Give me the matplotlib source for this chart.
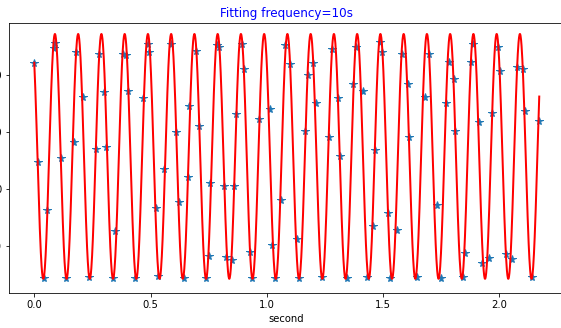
import numpy as np
import matplotlib
matplotlib.use("Agg")
import matplotlib.pyplot as plt

t_samples = [
    0.000, 0.015, 0.042, 0.055, 0.085, 0.089, 0.116, 0.135, 0.170, 0.179,
    0.208, 0.235, 0.264, 0.280, 0.301, 0.310, 0.340, 0.349, 0.383, 0.394,
    0.403, 0.434, 0.469, 0.488, 0.495, 0.523, 0.533, 0.559, 0.587, 0.611,
    0.621, 0.646, 0.661, 0.667, 0.697, 0.709, 0.738, 0.753, 0.757, 0.786,
    0.793, 0.817, 0.825, 0.850, 0.858, 0.866, 0.892, 0.901, 0.928, 0.935,
    0.967, 1.014, 1.024, 1.035, 1.060, 1.080, 1.100, 1.129, 1.140, 1.163,
    1.176, 1.200, 1.210, 1.237, 1.269, 1.280, 1.308, 1.316, 1.344, 1.372,
    1.384, 1.416, 1.431, 1.456, 1.465, 1.488, 1.496, 1.520, 1.529, 1.559,
    1.582, 1.606, 1.610, 1.645, 1.680, 1.698, 1.731, 1.748, 1.771, 1.784,
    1.804, 1.808, 1.843, 1.854, 1.877, 1.888, 1.914, 1.927, 1.957, 1.969,
    1.993, 2.003, 2.029, 2.056, 2.075, 2.101, 2.112, 2.139, 2.172,
]
y_samples = [
    22.0, 4.8, -15.5, -3.7, 24.7, 25.6, 5.5, -15.5, 8.2, 24.0,
    16.2, -15.3, 7.0, 23.7, 17.0, 7.3, -15.5, -7.3, 23.6, 23.4,
    17.2, -15.5, 16.0, 25.4, 23.9, -3.3, -15.2, 3.6, 25.4, 10.0,
    -2.3, -15.5, 2.2, 14.6, 24.2, 11.0, -15.5, -11.6, 1.1, 25.2,
    24.8, 0.6, -11.9, -12.3, 0.6, 13.2, 25.4, 21.0, -10.9, -15.6,
    12.2, 14.0, -9.8, -15.5, -1.9, 25.2, 21.9, -8.7, -15.5, 10.1,
    19.9, 22.0, 15.0, -15.3, 9.1, 24.5, 16.0, 5.8, -15.5, 18.4,
    24.8, 17.1, -15.3, -6.5, 6.9, 25.8, 24.0, -4.2, -15.5, -7.2,
    23.7, 18.4, 9.1, -15.3, 16.2, 23.7, -2.8, -15.5, 15.0, 22.2,
    19.2, 10.2, -15.3, -11.1, 22.2, 25.4, 11.8, -12.9, -12.0, 13.3,
    24.8, 20.6, -11.3, -12.2, 21.4, 21.0, 13.7, -15.3, 11.9,
]

# fitted sine parameters
fit_freq = 10.0
fit_amp = 21.4
fit_phase = 2.27
fit_offset = 5.73

t_fit = np.linspace(t_samples[0], t_samples[-1], 2000)
y_fit = fit_amp * np.sin(2 * np.pi * fit_freq * t_fit + fit_phase) + fit_offset

fig = plt.figure(figsize=(561 / 72, 328 / 72), dpi=72)
ax = fig.add_axes([9 / 561, 34.7 / 328, 555.4 / 561, 270.6 / 328])
ax.plot(t_samples, y_samples, "*", color="#1f77b4", markersize=8)
ax.plot(t_fit, y_fit, color="red", linewidth=2)
ax.set_xlim(-0.1086, 2.2802)
ax.set_ylim(-18.2, 29.1)
ax.set_yticks([-10, 0, 10, 20])
ax.set_xlabel("second")
ax.set_title("Fitting frequency=10s", color="blue")
fig.savefig("out.png", dpi=72)
